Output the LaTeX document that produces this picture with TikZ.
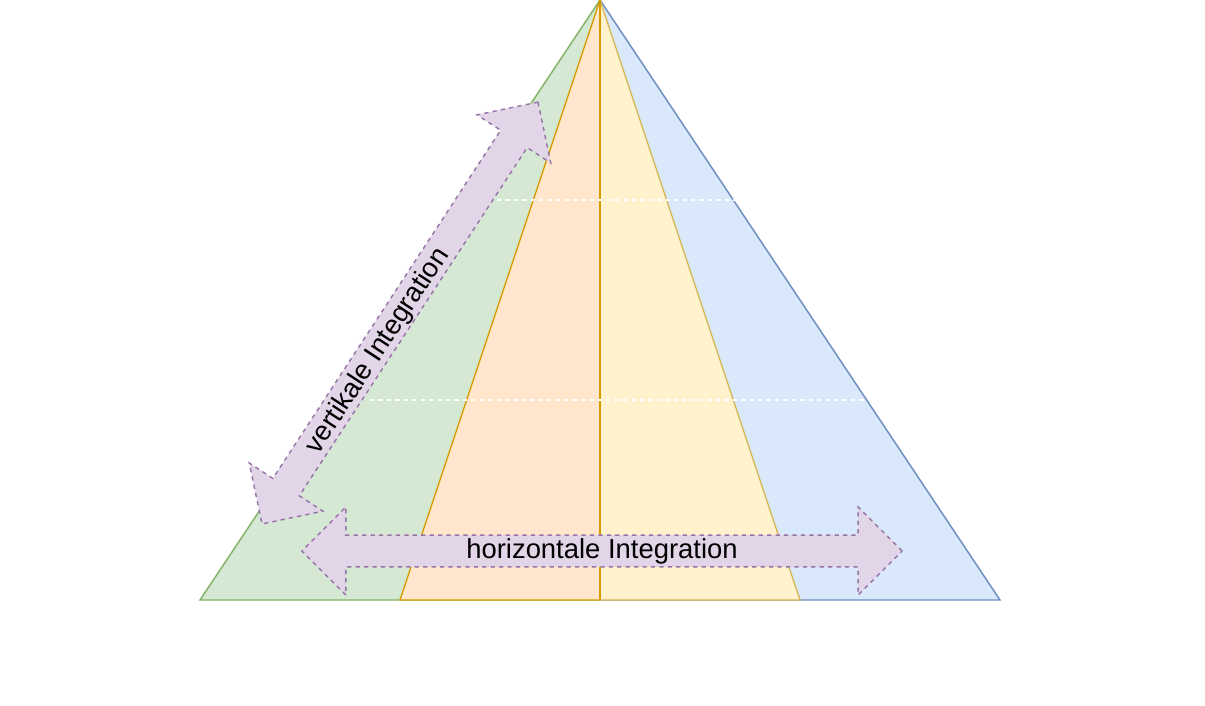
\documentclass[tikz,border=0pt]{standalone}
\usepackage{fontspec}
\setmainfont{Liberation Sans}
\usetikzlibrary{shapes.arrows}
\definecolor{greenfill}{HTML}{D5E8D4}\definecolor{greenline}{HTML}{82B366}
\definecolor{bluefill}{HTML}{DAE8FC}\definecolor{blueline}{HTML}{6C8EBF}
\definecolor{orangefill}{HTML}{FFE6CC}\definecolor{orangeline}{HTML}{D79B00}
\definecolor{yellowfill}{HTML}{FFF2CC}\definecolor{yellowline}{HTML}{D6B656}
\definecolor{purplefill}{HTML}{E1D5E7}\definecolor{purpleline}{HTML}{9673A6}
\tikzset{
	integration/.style={double arrow, draw=purpleline, fill=purplefill, dashed, line width=1pt,
		minimum width=2.2cm, double arrow head extend=0.6cm, inner sep=0pt,
		font=\fontsize{19.5}{23}\selectfont}
}
\begin{document}
\begin{tikzpicture}[x={(0.025cm,0)}, y={(0,-0.025cm)}, line width=1pt]
		\useasboundingbox (0,0) rectangle (1205,705);
		% Pyramid
		\filldraw[fill=greenfill, draw=greenline] (200,600) -- (600,0) -- (600,600) -- cycle;
		\filldraw[fill=bluefill, draw=blueline] (600,0) -- (1000,600) -- (600,600) -- cycle;
		\filldraw[fill=orangefill, draw=orangeline] (400,600) -- (600,0) -- (600,600) -- cycle;
		\filldraw[fill=yellowfill, draw=yellowline] (600,0) -- (800,600) -- (600,600) -- cycle;
		\draw[orangeline] (600,0) -- (600,600);
		
		% Levels
		\draw[white, dashed] (497,200) -- (735,200);
		\draw[white, dashed] (370,400) -- (865,400);
		
		% Integration
		\node[integration, minimum height=15cm] (horizontal) at (602,551) {horizontale Integration};
		\node[integration, minimum height=12.6cm, rotate=56.8] (vertical) at (400,313) {\phantom{vertikale Integration}};
		\node[font=\fontsize{19.5}{23}\selectfont, rotate=56.8] (verticallabel) at (378,351) {vertikale Integration};
	\end{tikzpicture}
\end{document}
